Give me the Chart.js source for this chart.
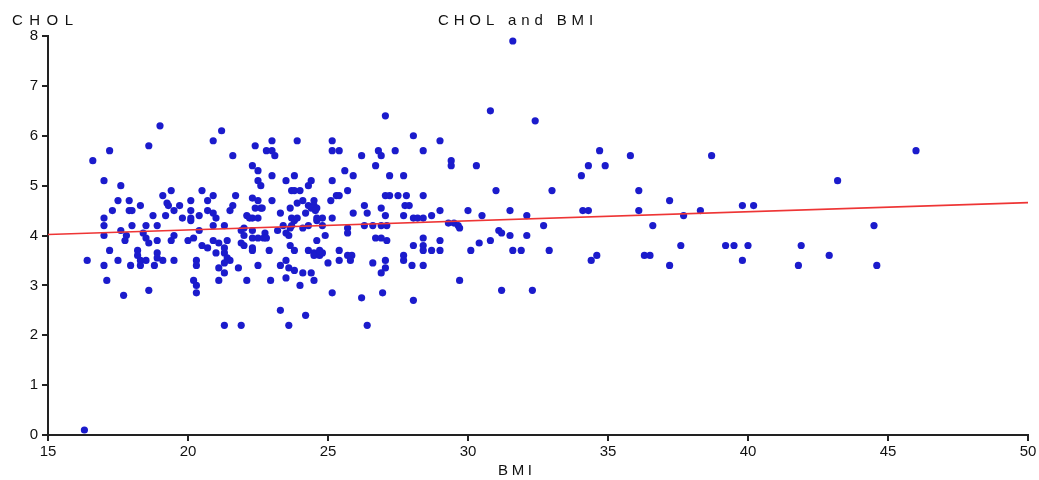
<!DOCTYPE html>
<html><head><meta charset="utf-8">
<script src="https://cdn.jsdelivr.net/npm/chart.js@4/dist/chart.umd.min.js"></script>
<style>html,body{margin:0;padding:0;background:#fff}#wrap{width:1039px;height:480px}</style>
</head><body><div id="wrap"><canvas id="c" width="1039" height="480"></canvas></div>
<script>
const chartTitle = 'CHOL and BMI';
const xTitle = 'BMI';
const yTitle = 'CHOL';
const xTicks = [15, 20, 25, 30, 35, 40, 45, 50];
const yTicks = [0, 1, 2, 3, 4, 5, 6, 7, 8];

const bmi = [
16.3,16.6,16.4,17.0,17.2,17.0,17.0,17.0,17.0,17.1,17.6,17.7,18.6,18.6,19.0,17.2,17.3,17.5,17.9,17.5,
17.6,17.8,17.75,17.95,17.9,18.0,18.0,18.3,18.2,18.2,18.3,18.3,18.4,18.5,18.6,18.5,18.5,18.75,18.8,18.9,
18.9,18.9,18.9,19.1,19.1,19.2,19.25,19.3,19.4,19.4,19.5,19.5,19.5,19.7,19.8,20.0,20.1,20.1,20.1,20.2,
20.3,20.3,20.3,20.3,20.4,20.4,20.5,20.5,20.7,20.7,20.7,20.9,20.9,21.0,20.9,20.9,21.1,21.0,20.9,21.2,
21.3,21.3,21.3,21.4,21.5,21.4,21.5,21.6,21.6,21.7,21.1,21.3,21.3,21.1,21.8,21.3,21.9,21.9,22.0,21.9,
22.1,22.3,22.5,22.3,22.5,22.3,22.5,22.1,22.4,22.3,22.5,22.5,22.6,22.3,22.5,22.4,22.6,22.0,22.3,22.75,
22.7,22.0,22.3,22.9,22.8,23.0,23.1,23.0,23.9,23.0,23.8,23.5,23.0,23.3,22.95,23.2,23.4,23.5,23.6,23.65,
23.65,23.8,23.3,23.5,23.6,23.8,23.5,23.3,23.6,23.65,23.9,23.7,23.8,23.7,23.8,24.0,24.3,24.4,24.1,24.3,
24.5,24.5,24.6,24.6,24.8,24.1,24.3,24.8,24.9,24.6,24.3,24.5,24.5,24.7,24.8,24.1,24.4,24.0,24.5,24.2,
25.0,25.15,25.15,25.15,25.15,25.4,25.3,25.4,25.1,25.15,25.4,25.4,25.7,25.85,25.8,25.7,25.6,25.9,25.7,25.7,
25.9,26.2,26.3,26.2,26.3,26.4,26.4,26.6,26.6,26.7,26.7,26.8,26.9,26.9,26.9,26.9,26.9,26.95,27.05,27.05,
27.05,27.05,27.05,27.1,27.2,27.2,27.4,27.5,27.7,27.75,27.9,27.7,28.05,28.2,28.4,27.8,28.4,28.4,28.05,29.0,
29.4,29.4,28.7,29.0,28.4,28.05,28.4,28.4,28.7,29.0,29.0,27.7,27.7,28.0,28.4,28.05,29.3,29.5,29.65,29.7,
29.7,30.0,30.1,30.3,30.4,30.5,30.8,30.8,31.0,31.1,31.2,31.2,31.5,31.5,31.6,31.6,31.9,32.1,32.1,32.3,
32.4,32.7,32.9,33.0,34.05,34.1,34.3,34.3,34.4,34.6,34.7,34.9,35.8,36.1,36.1,36.3,36.5,36.6,37.2,37.2,
37.6,37.7,38.3,38.7,39.2,39.5,39.8,39.8,40.0,40.2,41.8,41.9,42.9,43.2,44.5,44.6,46.0,
24.2,20.1,22.2,22.65,23.9,23.7,24.6,20.2,24.4,24.55,24.7,22.8,27.1
];
const chol = [
0.1,5.5,3.5,5.1,5.7,4.35,4.2,4.0,3.4,3.1,5.0,2.8,2.9,5.8,6.2,3.7,4.5,4.7,4.7,3.5,
4.1,4.0,3.9,3.4,4.5,4.5,4.2,4.6,3.7,3.6,3.5,3.4,4.05,3.95,3.85,4.2,3.5,4.4,3.4,4.2,
3.9,3.65,3.55,3.5,4.8,4.4,4.65,4.6,4.9,3.9,4.0,4.5,3.5,4.6,4.35,3.9,4.7,4.5,4.35,3.1,
3.0,2.85,3.5,3.4,4.4,4.1,4.9,3.8,3.75,4.7,4.5,4.8,4.45,4.35,4.2,3.9,3.85,3.65,5.9,6.1,
4.2,3.75,3.65,3.55,3.5,3.9,4.5,4.6,5.6,4.8,3.35,3.45,3.25,3.1,3.35,2.2,2.2,4.1,4.0,3.85,
4.4,4.35,4.35,4.1,3.95,3.7,3.4,3.1,5.8,5.4,5.3,5.1,5.0,4.75,4.7,4.55,4.55,4.15,3.95,4.05,
3.95,3.8,3.75,3.7,5.7,5.7,5.6,5.9,5.9,5.2,5.2,5.1,4.7,4.45,3.1,4.1,4.2,4.05,4.0,4.15,
3.8,3.7,3.4,3.5,3.35,3.3,3.15,2.5,2.2,4.55,4.65,4.35,4.3,4.9,4.9,4.9,5.0,5.1,4.7,4.6,
4.7,4.6,4.55,4.35,4.35,4.15,4.2,4.2,4.0,3.9,3.7,3.65,3.6,3.6,3.65,3.25,3.25,3.0,3.1,2.4,
3.45,4.35,5.1,5.9,5.7,5.7,4.8,4.8,4.7,2.85,3.7,3.5,3.6,3.6,3.5,4.9,5.3,5.2,4.15,4.05,
4.45,5.6,4.6,2.75,4.2,4.45,2.2,4.2,3.45,5.4,3.95,5.7,5.6,4.55,4.2,3.95,3.25,2.85,6.4,4.8,
4.4,3.5,3.35,4.2,5.2,4.8,5.7,4.8,5.2,4.6,4.6,4.4,4.35,4.35,4.35,4.8,4.8,5.7,6.0,5.9,
5.5,5.4,4.4,4.5,3.95,3.8,3.8,3.7,3.7,3.7,3.9,3.6,3.5,3.4,3.4,2.7,4.25,4.25,4.2,4.15,
3.1,4.5,3.7,5.4,3.85,4.4,6.5,3.9,4.9,4.1,4.05,2.9,4.5,4.0,7.9,3.7,3.7,4.4,4.0,2.9,
6.3,4.2,3.7,4.9,5.2,4.5,4.5,5.4,3.5,3.6,5.7,5.4,5.6,4.9,4.5,3.6,3.6,4.2,4.7,3.4,
3.8,4.4,4.5,5.6,3.8,3.8,4.6,3.5,3.8,4.6,3.4,3.8,3.6,5.1,4.2,3.4,5.7,
4.45,4.3,4.35,4.55,4.35,4.2,4.3,3.95,4.55,4.5,3.7,3.95,3.9
];

const fitBmi = [15, 50];
const fitChol = [4.02, 4.66];

const scatterData = bmi.map((v, i) => ({ x: v, y: chol[i] }));
const fitData = fitBmi.map((v, i) => ({ x: v, y: fitChol[i] }));

const FONT = '"Liberation Sans", Arial, sans-serif';

const textPlugin = {
  id: 'texts',
  afterDraw(chart) {
    const ctx = chart.ctx;
    ctx.save();
    ctx.fillStyle = '#111';
    ctx.textBaseline = 'middle';
    ctx.textAlign = 'left';
    function spaced(text, left, cy, width, size) {
      ctx.font = size + 'px ' + FONT;
      ctx.letterSpacing = '0px';
      const w0 = ctx.measureText(text).width;
      const sp = (width - w0) / (text.length - 1);
      ctx.letterSpacing = sp.toFixed(2) + 'px';
      ctx.fillText(text, left, cy);
    }
    spaced(yTitle, 12, 21, 61, 15);
    spaced(chartTitle, 438, 21, 155, 15);
    spaced(xTitle, 498, 471, 34, 15);
    ctx.restore();
  }
};

new Chart(document.getElementById('c'), {
  data: {
    datasets: [
      {
        type: 'line',
        data: fitData,
        borderColor: '#ee3535',
        borderWidth: 1.6,
        pointRadius: 0,
        fill: false,
        order: 0
      },
      {
        type: 'scatter',
        data: scatterData,
        backgroundColor: '#1b1bcc',
        borderWidth: 0,
        pointRadius: 3.6,
        pointHoverRadius: 3.6,
        order: 1
      }
    ]
  },
  options: {
    responsive: false,
    animation: false,
    devicePixelRatio: 1,
    layout: { padding: { left: 0, right: 11, top: 36, bottom: 0 } },
    plugins: { legend: { display: false }, tooltip: { enabled: false }, title: { display: false } },
    scales: {
      x: {
        type: 'linear',
        min: 15, max: 50,
        afterBuildTicks(s) { s.ticks = xTicks.map(v => ({ value: v })); },
        afterFit(s) { s.height = 45; },
        border: { display: true, color: '#222', width: 2 },
        grid: { drawOnChartArea: false, drawTicks: true, tickLength: 6, color: '#222', lineWidth: 2 },
        ticks: { color: '#111', padding: 2, font: { family: FONT, size: 15 }, maxRotation: 0, autoSkip: false }
      },
      y: {
        type: 'linear',
        min: 0, max: 8,
        afterBuildTicks(s) { s.ticks = yTicks.map(v => ({ value: v })); },
        afterFit(s) { s.width = 48; },
        border: { display: true, color: '#222', width: 2 },
        grid: { drawOnChartArea: false, drawTicks: true, tickLength: 6, color: '#222', lineWidth: 2 },
        ticks: { color: '#111', padding: 4, font: { family: FONT, size: 15 }, autoSkip: false }
      }
    }
  },
  plugins: [textPlugin]
});
</script>
</body></html>
